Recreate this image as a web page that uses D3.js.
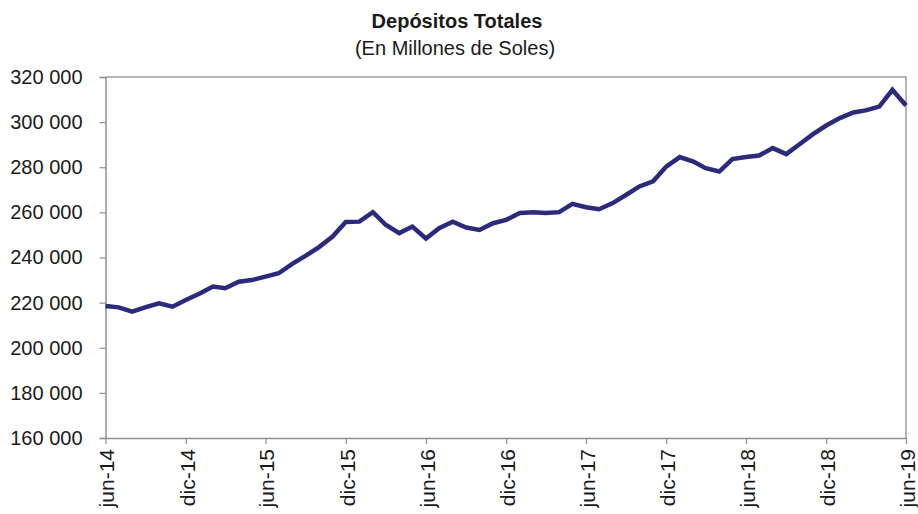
<!DOCTYPE html>
<html>
<head>
<meta charset="utf-8">
<script src="https://cdn.jsdelivr.net/npm/d3@7/dist/d3.min.js"></script>
<style>
  html, body { margin: 0; padding: 0; background: #fff; }
  svg text { font-family: "Liberation Sans", Arial, sans-serif; fill: #1a1a1a; }
</style>
</head>
<body>
<svg id="chart" width="918" height="514"></svg>
<script>
/* ---- data: monthly total deposits, jun-14 .. jun-19 (millones de soles) ---- */
const START_MONTH = { year: 2014, month: 5 }; // jun-14 (0-based month)
const DEPOSITS = [
  218500, 217900, 216000, 218000, 219700, 218200, 221200, 223900, 227100, 226400,
  229300, 230000, 231500, 233000, 237200, 240800, 244600, 249300, 255700, 255900,
  260100, 254500, 250800, 253700, 248400, 253000, 255900, 253300, 252200, 255200,
  256700, 259700, 260100, 259700, 260100, 263800, 262300, 261400, 264100, 267800,
  271500, 273800, 280300, 284500, 282500, 279600, 278100, 283600, 284500, 285200,
  288500, 285800, 290200, 294700, 298500, 301800, 304300, 305200, 306900, 314300,
  307400
];
const Y_TICKS = [160000, 180000, 200000, 220000, 240000, 260000, 280000, 300000, 320000];
const MONTH_ABBR = ['ene','feb','mar','abr','may','jun','jul','ago','set','oct','nov','dic'];
const TITLE = 'Depósitos Totales';
const SUBTITLE = '(En Millones de Soles)';

/* ---- layout ---- */
const M = { left: 105.5, right: 906, top: 77, bottom: 438 };
const svg = d3.select('#chart');

const dates = DEPOSITS.map((_, i) => new Date(START_MONTH.year, START_MONTH.month + i, 1));
const data = DEPOSITS.map((v, i) => ({ date: dates[i], value: v }));

const x = d3.scaleTime().domain([dates[0], dates[dates.length - 1]]).range([M.left, M.right]);
const y = d3.scaleLinear().domain([160000, 320000]).range([M.bottom, M.top]);

const fmt = v => d3.format(',')(v).replace(/,/g, ' ');
const monthLabel = d => `${MONTH_ABBR[d.getMonth()]}-${String(d.getFullYear()).slice(2)}`;

/* ---- frame (top and right) ---- */
svg.append('path')
  .attr('d', `M${M.left},${M.top}H${M.right}V${M.bottom}`)
  .attr('fill', 'none').attr('stroke', '#a0a0a0').attr('stroke-width', 1.5);

/* ---- y axis ---- */
const yAxis = svg.append('g')
  .attr('transform', `translate(${M.left},0)`)
  .call(d3.axisLeft(y).tickValues(Y_TICKS).tickFormat(fmt).tickSize(6).tickPadding(17));
yAxis.select('.domain').attr('stroke', '#909090').attr('stroke-width', 1.5);
yAxis.selectAll('.tick line').attr('stroke', '#909090').attr('stroke-width', 1.2);
yAxis.selectAll('.tick text')
  .attr('font-size', '20px').attr('fill', '#1a1a1a')
  .attr('font-family', '"Liberation Sans", Arial, sans-serif');

/* ---- x axis ---- */
const xTicks = dates.filter((_, i) => i % 6 === 0);
const xAxis = svg.append('g')
  .attr('transform', `translate(0,${M.bottom})`)
  .call(d3.axisBottom(x).tickValues(xTicks).tickFormat(monthLabel).tickSize(6).tickSizeOuter(0));
xAxis.select('.domain').attr('stroke', '#909090').attr('stroke-width', 1.5);
xAxis.selectAll('.tick line').attr('stroke', '#909090').attr('stroke-width', 1.2);
xAxis.selectAll('.tick text')
  .attr('font-size', '21px').attr('fill', '#1a1a1a')
  .attr('font-family', '"Liberation Sans", Arial, sans-serif')
  .attr('text-anchor', 'end')
  .attr('dy', '0.4em')
  .attr('transform', 'translate(0,11) rotate(-90)')
  .attr('x', 0).attr('y', 0);

/* ---- line ---- */
const line = d3.line().x(d => x(d.date)).y(d => y(d.value));
svg.append('path')
  .datum(data)
  .attr('d', line)
  .attr('fill', 'none')
  .attr('stroke', '#2b2a7c')
  .attr('stroke-width', 4.5)
  .attr('stroke-linejoin', 'miter')
  .attr('stroke-linecap', 'butt');

/* ---- titles ---- */
svg.append('text')
  .attr('x', 457).attr('y', 28).attr('text-anchor', 'middle')
  .attr('font-size', '20px').attr('font-weight', 'bold')
  .text(TITLE);
svg.append('text')
  .attr('x', 455).attr('y', 55).attr('text-anchor', 'middle')
  .attr('font-size', '20px')
  .text(SUBTITLE);
</script>
</body>
</html>
